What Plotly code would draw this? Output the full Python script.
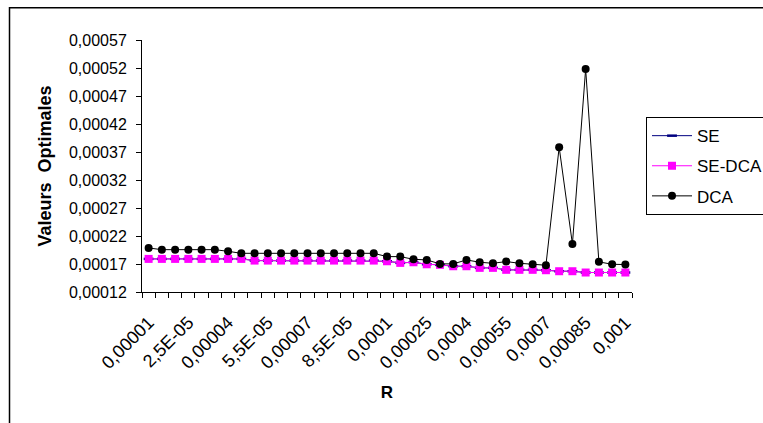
import plotly.graph_objects as go

# Categories (R values) and tick labels
R_values = [0.00001, 0.000015, 0.00002, 0.000025, 0.00003, 0.000035, 0.00004,
            0.000045, 0.00005, 0.000055, 0.00006, 0.000065, 0.00007, 0.000075,
            0.00008, 0.000085, 0.00009, 0.000095, 0.0001, 0.00015, 0.0002,
            0.00025, 0.0003, 0.00035, 0.0004, 0.00045, 0.0005, 0.00055, 0.0006,
            0.00065, 0.0007, 0.00075, 0.0008, 0.00085, 0.0009, 0.00095, 0.001]
tick_labels = ["0,00001", "2,5E-05", "0,00004", "5,5E-05", "0,00007", "8,5E-05",
               "0,0001", "0,00025", "0,0004", "0,00055", "0,0007", "0,00085", "0,001"]

se_dca = [0.0001791] * 8 + [0.0001761] * 10 + [
    0.0001749, 0.000172, 0.0001731, 0.0001695, 0.0001685, 0.000166, 0.000166,
    0.0001631, 0.0001631, 0.0001596, 0.0001596, 0.0001596, 0.0001589,
    0.0001571, 0.0001571, 0.0001548, 0.0001548, 0.0001548, 0.0001548]
se = list(se_dca)
dca = [0.0001986] + [0.0001956] * 5 + [0.0001926] + [0.0001891] * 11 + [
    0.0001832, 0.0001832, 0.0001784, 0.0001773, 0.0001702, 0.0001702, 0.0001773,
    0.0001731, 0.0001713, 0.0001743, 0.0001713, 0.0001695, 0.0001678,
    0.0003785, 0.0002057, 0.0005182, 0.0001738, 0.0001695, 0.000169]

idx = list(range(len(R_values)))
tick_idx = idx[::3]

FONT = "Liberation Sans, Arial, sans-serif"

fig = go.Figure()
fig.add_trace(go.Scatter(
    x=idx, y=se, name="SE", mode="lines+markers", legendgroup="a",
    line=dict(color="#000080", width=1),
    marker=dict(symbol="line-ew", size=7, line=dict(color="#000080", width=2.5))))
fig.add_trace(go.Scatter(
    x=idx, y=se_dca, name="SE-DCA", mode="lines+markers", legendgroup="b",
    line=dict(color="#FF00FF", width=1),
    marker=dict(symbol="square", size=8, color="#FF00FF")))
fig.add_trace(go.Scatter(
    x=idx, y=dca, name="DCA", mode="lines+markers", legendgroup="c",
    line=dict(color="black", width=1),
    marker=dict(symbol="circle", size=8, color="black")))

# The figure is drawn a bit wider than the window so the legend is cut at the
# right edge, as in the reference picture.
fig.update_layout(
    width=800, height=423,
    margin=dict(l=142, r=168, t=40, b=131),
    paper_bgcolor="white", plot_bgcolor="white",
    separators=", ",
    font=dict(family=FONT, color="black", size=16),
    showlegend=True,
    legend=dict(x=1.0286, y=0.694, xanchor="left", yanchor="top",
                bordercolor="black", borderwidth=1,
                font=dict(family=FONT, size=17, color="black"),
                tracegroupgap=5, itemwidth=40),
    xaxis=dict(
        type="linear", range=[-0.5, len(R_values) - 0.5],
        tickmode="array", tickvals=tick_idx, ticktext=tick_labels,
        tickangle=-45, ticks="outside", ticklen=5, tickcolor="rgba(0,0,0,0)",
        ticklabelstandoff=7,
        minor=dict(ticks="outside", ticklen=5, tick0=-0.5, dtick=1,
                   tickcolor="black", showgrid=False),
        showline=True, linecolor="black", linewidth=1,
        showgrid=False, zeroline=False,
        tickfont=dict(family=FONT, size=18, color="black"),
        title=dict(text="<b>R</b>", font=dict(family=FONT, size=17, color="black"),
                   standoff=14)),
    yaxis=dict(
        range=[0.00012, 0.00057], tick0=0.00012, dtick=0.00005,
        tickformat=".5f", ticks="outside", ticklen=5, tickcolor="black",
        ticklabelstandoff=6,
        showline=True, linecolor="black", linewidth=1,
        showgrid=False, zeroline=False,
        tickfont=dict(family=FONT, size=16, color="black"),
        title=dict(text="<b>Valeurs  Optimales</b>",
                   font=dict(family=FONT, size=18, color="black"), standoff=12)),
    shapes=[dict(type="rect", xref="paper", yref="paper",
                 x0=-0.2704, x1=2, y0=-2, y1=1.128,
                 line=dict(color="black", width=1.5))],
)

fig.write_html("out.html", config={"displayModeBar": False},
               post_script="document.body.style.margin='0';document.body.style.overflow='hidden';")
